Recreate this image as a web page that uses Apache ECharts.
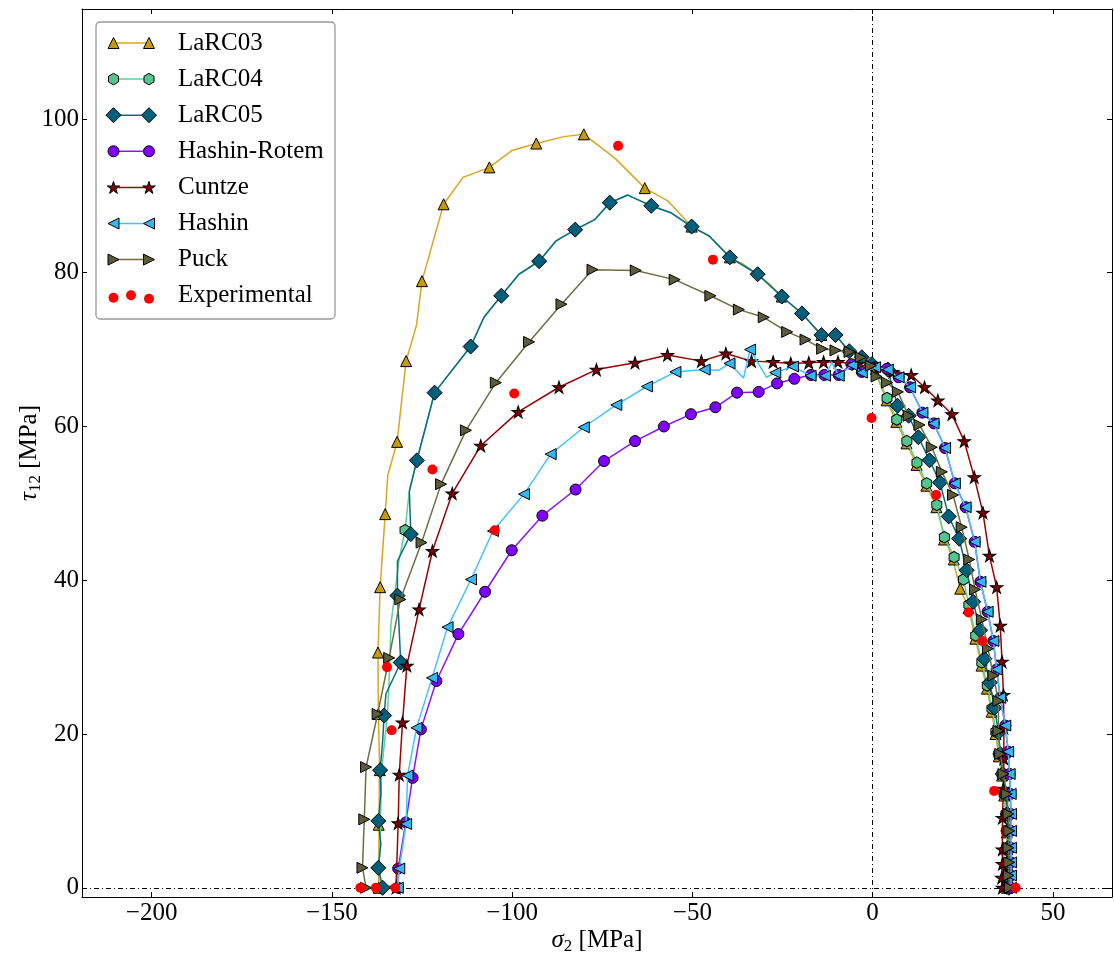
<!DOCTYPE html>
<html><head><meta charset="utf-8">
<script src="https://cdn.jsdelivr.net/npm/echarts@6/dist/echarts.min.js"></script>
<style>html,body{margin:0;padding:0;background:#fff}#c{width:1114px;height:958px}</style>
</head><body><div id="c"></div>
<script>
// ---------------- DATA ----------------
const seriesNames = ['LaRC03','LaRC04','LaRC05','Hashin-Rotem','Cuntze','Hashin','Puck','Experimental'];
const xTicks = [-200,-150,-100,-50,0,50];
const yTicks = [0,20,40,60,80,100];

const larc03Curve = [[-137.0,0],[-136.9,8],[-136.8,16.9],[-137.1,22.6],[-137.2,30.6],[-136.6,39.1],[-135.2,48.6],[-134.5,53.6],[-131.9,58.0],[-129.4,68.5],[-126.5,73.2],[-125.0,78.9],[-119.0,88.9],[-113.6,92.4],[-106.3,93.7],[-100.0,95.9],[-93.3,96.8],[-85.6,97.7],[-80.1,98.0],[-71.5,94.9],[-63.2,91.0],[-56.7,89.3],[-50.2,86.0],[-45.4,84.8],[-39.6,82.0],[-35.5,81.0],[-31.9,79.8],[-28.5,78.5],[-25.2,76.9],[-19.6,74.7],[-14.2,71.9],[-10.3,71.9],[-6.5,69.8],[-3.0,69.0],[-0.2,68.1],[3.9,63.4],[6.6,60.6],[9.4,57.8],[12.2,55.0],[14.9,52.3],[17.7,49.5],[18.3,48.6],[19.7,46.0],[22.3,42.6],[24.3,38.9],[26.6,36.4],[28.5,32.4],[30.2,28.9],[31.7,25.9],[33.0,22.9],[34.1,20.0],[35.0,17.1],[35.9,14.6],[36.5,12.0],[37.0,9.4],[37.2,7.2],[37.3,5.0],[37.3,3.1],[37.3,1.4],[37.3,0]];
const larc03Marks = [[-137.0,0],[-137.0,8.2],[-136.7,15.3],[-137.1,22.6],[-137.2,30.6],[-136.6,39.1],[-135.2,48.6],[-131.9,58.0],[-129.4,68.5],[-125.0,78.9],[-119.0,88.9],[-106.3,93.7],[-93.3,96.8],[-80.1,98.0],[-63.2,91.0],[-50.2,86.0],[-39.6,82.0],[-25.2,76.9],[-14.2,71.9],[-3.0,69.0],[3.9,63.4],[6.6,60.6],[9.4,57.8],[12.2,55.0],[14.9,52.3],[17.7,49.5],[19.8,45.3],[22.5,42.7],[24.3,38.9],[26.6,36.4],[28.5,32.4],[30.2,28.9],[31.7,25.9],[33.0,22.9],[34.1,20.0],[35.0,17.1],[35.9,14.6],[36.5,12.0],[37.0,9.4],[37.2,7.2],[37.3,5.0],[37.3,3.1],[37.3,1.4],[37.3,0]];

const larc04Curve = [[-136.3,0],[-136.9,2.6],[-136.5,8.7],[-136.2,15.3],[-134.6,22.4],[-134.1,26.9],[-133.6,34.3],[-131.4,42.5],[-129.7,46.5],[-128.5,51.6],[-126.4,55.6],[-121.5,64.4],[-111.5,70.4],[-107.8,74.2],[-103.0,77.0],[-98.1,79.8],[-92.5,81.5],[-87.9,84.1],[-82.5,85.6],[-77.1,86.9],[-72.9,89.1],[-67.9,90.1],[-61.4,88.7],[-56.0,87.8],[-50.2,86.0],[-45.4,84.8],[-39.6,82.0],[-31.9,79.8],[-25.2,76.9],[-19.6,74.7],[-14.2,71.9],[-10.3,71.9],[-6.5,69.8],[-3.0,69.0],[-0.2,68.1],[4.0,63.7],[6.7,60.9],[9.5,58.1],[12.3,55.3],[15.0,52.6],[17.8,49.8],[19.9,45.6],[22.6,43.0],[25.2,40.1],[26.7,36.8],[28.6,32.8],[30.3,29.3],[31.8,26.3],[33.1,23.3],[34.2,20.3],[35.0,17.4],[35.9,14.8],[36.5,12.2],[37.0,9.6],[37.2,7.4],[37.3,5.2],[37.3,3.3],[37.3,1.6],[37.3,0]];
const larc04Marks = [[-129.7,46.5],[4.0,63.7],[6.7,60.9],[9.5,58.1],[12.3,55.3],[15.0,52.6],[17.8,49.8],[19.9,45.6],[22.6,43.0],[25.2,40.1],[26.7,36.8],[28.6,32.8],[30.3,29.3],[31.8,26.3],[33.1,23.3],[34.2,20.3],[35.0,17.4],[35.9,14.8],[36.5,12.2],[37.0,9.6],[37.2,7.4],[37.3,5.2],[37.3,3.3],[37.3,1.6],[37.3,0]];

const larc05Curve = [[-135.9,0],[-137.1,2.6],[-136.4,5.7],[-137.1,8.7],[-136.4,12.2],[-136.6,15.3],[-135.9,19.1],[-135.5,22.4],[-135.0,25.2],[-130.9,29.3],[-131.3,33.4],[-131.8,38.0],[-131.8,42.5],[-128.1,46.0],[-128.5,51.6],[-126.4,55.6],[-121.5,64.4],[-111.5,70.4],[-107.8,74.2],[-103.0,77.0],[-98.1,79.8],[-92.5,81.5],[-87.9,84.1],[-82.5,85.6],[-77.1,86.9],[-72.9,89.1],[-67.9,90.1],[-61.4,88.7],[-56.0,87.8],[-50.2,86.0],[-45.4,84.8],[-39.6,82.0],[-31.9,79.8],[-25.2,76.9],[-19.6,74.7],[-14.2,71.9],[-10.3,71.9],[-6.5,69.8],[-3.0,69.0],[-0.2,68.1],[4.2,67.4],[6.9,62.7],[10.0,61.4],[12.7,58.6],[15.8,55.6],[18.7,52.7],[21.1,48.3],[24.0,45.4],[26.1,41.3],[27.9,37.2],[29.8,33.5],[31.0,29.8],[32.5,26.7],[33.8,23.4],[34.9,20.2],[35.4,17.4],[36.1,14.8],[37.0,12.2],[37.4,9.6],[37.6,7.4],[37.6,5.2],[37.6,3.2],[37.6,1.5],[37.8,0]];
const larc05Marks = [[-135.9,0],[-137.1,2.6],[-137.1,8.7],[-136.6,15.3],[-135.5,22.4],[-130.9,29.3],[-131.8,38.0],[-128.1,46.0],[-126.4,55.6],[-121.5,64.4],[-111.5,70.4],[-103.0,77.0],[-92.5,81.5],[-82.5,85.6],[-72.9,89.1],[-61.4,88.7],[-50.2,86.0],[-39.6,82.0],[-31.9,79.8],[-25.2,76.9],[-19.6,74.7],[-14.2,71.9],[-10.3,71.9],[-6.5,69.8],[-3.0,69.0],[-0.2,68.1],[4.2,67.4],[6.9,62.7],[10.0,61.4],[12.7,58.6],[15.8,55.6],[18.7,52.7],[21.1,48.3],[24.0,45.4],[26.1,41.3],[27.9,37.2],[29.8,33.5],[31.0,29.8],[32.5,26.7],[33.8,23.4],[34.9,20.2],[35.4,17.4],[36.1,14.8],[37.0,12.2],[37.4,9.6],[37.6,7.4],[37.6,5.2],[37.6,3.2],[37.6,1.5],[37.8,0]];

const hashinRotemMarks = [[-131.6,0],[-131.6,2.5],[-129.5,8.5],[-127.6,14.3],[-125.3,20.6],[-121.0,26.9],[-114.9,33.0],[-107.5,38.5],[-100.1,43.9],[-91.6,48.4],[-82.4,51.8],[-74.5,55.5],[-65.9,58.1],[-57.9,60.0],[-50.4,61.6],[-43.6,62.5],[-37.6,64.4],[-31.6,64.5],[-26.5,65.6],[-21.7,66.2],[-17.1,66.7],[-13.4,66.7],[-9.4,66.7],[-5.9,68.1],[-3.0,67.1],[0.7,67.7],[4.0,67.5],[7.2,66.4],[10.4,65.1],[13.8,61.8],[17.0,60.4],[20.1,57.2],[22.8,52.6],[25.8,49.5],[28.3,45.0],[29.9,39.8],[31.9,35.9],[33.5,32.1],[34.4,28.4],[35.4,24.7],[36.8,21.1],[37.6,17.7],[38.0,14.8],[38.2,12.2],[38.3,9.6],[38.3,7.4],[38.3,5.2],[38.3,3.3],[38.3,1.6],[38.3,0]];
const hashinRotemCurve = hashinRotemMarks;

const cuntzeMarks = [[-132.2,0],[-131.6,8.4],[-131.3,14.7],[-130.4,21.5],[-129.2,28.9],[-125.8,36.2],[-122.1,43.8],[-116.6,51.3],[-108.7,57.5],[-98.3,61.9],[-87.0,65.1],[-76.6,67.4],[-65.9,68.3],[-56.9,69.3],[-47.5,68.5],[-40.7,69.5],[-33.6,68.5],[-27.6,68.4],[-22.7,68.2],[-17.7,68.3],[-13.6,68.4],[-9.6,68.4],[-4.6,68.1],[0.6,67.6],[5.6,67.1],[10.7,66.7],[14.4,65.1],[18.1,63.4],[22.0,61.6],[25.4,58.1],[28.2,53.4],[30.6,48.8],[32.4,43.2],[34.4,39.1],[35.4,34.1],[35.9,29.4],[36.3,25.1],[36.4,20.8],[36.4,16.8],[36.3,12.9],[36.0,9.1],[36.0,5.0],[36.0,3.1],[35.8,1.3],[36.0,0]];
const cuntzeCurve = cuntzeMarks;

const hashinMarks = [[-131.7,0],[-131.3,2.5],[-129.4,8.3],[-129.0,14.6],[-126.5,20.8],[-122.2,27.3],[-117.9,33.9],[-111.4,40.1],[-105.3,46.4],[-96.7,51.2],[-89.3,56.4],[-80.1,59.9],[-71.1,62.8],[-62.6,65.2],[-54.7,67.1],[-46.6,67.4],[-39.7,68.2],[-34.0,70.0],[-27.0,67.0],[-22.1,67.8],[-17.2,66.6],[-13.2,66.6],[-9.4,66.6],[-5.7,68.0],[-3.0,67.0],[0.7,67.7],[4.2,67.4],[7.2,66.4],[10.4,65.1],[13.8,61.8],[16.9,60.4],[20.1,57.2],[22.8,52.6],[25.8,49.5],[28.3,45.0],[29.9,39.8],[31.9,35.9],[33.5,32.1],[34.4,28.4],[35.4,24.7],[36.8,21.1],[37.6,17.7],[38.0,14.8],[38.3,12.2],[38.4,9.6],[38.4,7.4],[38.4,5.2],[38.4,3.3],[38.4,1.6],[38.4,0]];
const hashinCurve = [[-131.7,0],[-131.3,2.5],[-129.4,8.3],[-129.0,14.6],[-126.5,20.8],[-122.2,27.3],[-117.9,33.9],[-111.4,40.1],[-105.3,46.4],[-96.7,51.2],[-89.3,56.4],[-80.1,59.9],[-71.1,62.8],[-62.6,65.2],[-54.7,67.1],[-46.6,67.4],[-42.7,67.3],[-39.7,68.2],[-35.8,66.3],[-34.0,70.0],[-29.4,66.4],[-27.0,67.0],[-22.1,67.8],[-17.2,66.6],[-13.2,66.6],[-11.3,68.3],[-9.4,66.6],[-5.7,68.0],[-3.0,67.0],[0.7,67.7],[4.2,67.4],[7.2,66.4],[10.4,65.1],[13.8,61.8],[16.9,60.4],[20.1,57.2],[22.8,52.6],[25.8,49.5],[28.3,45.0],[29.9,39.8],[31.9,35.9],[33.5,32.1],[34.4,28.4],[35.4,24.7],[36.8,21.1],[37.6,17.7],[38.0,14.8],[38.3,12.2],[38.4,9.6],[38.4,7.4],[38.4,5.2],[38.4,3.3],[38.4,1.6],[38.4,0]];

const puckMarks = [[-140.5,0],[-141.5,2.6],[-141.0,8.9],[-140.5,15.7],[-137.3,22.6],[-134.1,29.9],[-131.0,37.5],[-125.1,44.9],[-119.7,52.5],[-112.8,59.5],[-104.5,65.7],[-95.3,71.0],[-86.3,75.9],[-77.7,80.4],[-65.7,80.3],[-54.9,79.1],[-45.0,77.0],[-37.1,75.2],[-30.2,74.2],[-23.7,72.3],[-18.6,71.3],[-14.0,70.1],[-10.3,69.9],[-6.4,69.7],[-3.3,69.0],[-0.5,67.9],[1.1,66.5],[4.0,65.7],[7.0,64.5],[10.0,61.4],[13.0,60.2],[16.4,57.3],[19.2,54.1],[22.3,51.1],[24.7,46.9],[26.8,42.7],[28.4,38.8],[30.3,34.9],[32.0,31.1],[33.5,27.6],[34.9,24.3],[34.9,20.4],[35.4,17.4],[36.3,14.8],[37.2,12.2],[37.7,9.6],[37.9,7.4],[37.7,5.2],[37.9,3.3],[37.7,1.6],[38.1,0]];
const puckCurve = puckMarks;

const experimental = [[-70.6,96.5],[-44.3,81.7],[-99.4,64.3],[-122.1,54.4],[-104.8,46.5],[-134.7,28.7],[-133.4,20.5],[-142.1,0],[-137.8,0],[-132.4,0],[-0.3,61.1],[17.6,51.1],[26.6,35.8],[30.4,32.1],[33.7,12.6],[39.7,0]];

// ---------------- STYLE ----------------
const SHAPES = {
  triUp: [[0,-0.5],[0.5,0.5],[-0.5,0.5]],
  triL: [[-0.5,0],[0.5,-0.5],[0.5,0.5]],
  triR: [[0.5,0],[-0.5,-0.5],[-0.5,0.5]],
  diam: [[0,-0.5],[0.5,0],[0,0.5],[-0.5,0]],
  hex: [[0,-0.5],[0.5,-0.25],[0.5,0.25],[0,0.5],[-0.5,0.25],[-0.5,-0.25]],
  star: [[0,-1],[-0.2245,-0.309],[-0.9511,-0.309],[-0.3633,0.118],[-0.5878,0.809],[0,0.382],[0.5878,0.809],[0.3633,0.118],[0.9511,-0.309],[0.2245,-0.309]]
    .map(p => [p[0]/1.9022, (p[1]+0.0955)/1.809])
};
const symPath = k => 'path://M' + SHAPES[k].map(p => Math.round(p[0]*1000)+','+Math.round(p[1]*1000)).join('L') + 'Z';

const models = [
  {curve: larc03Curve, marks: larc03Marks, line:'#dba520', fill:'#c99a06', sym:'triUp', size:[11,11]},
  {curve: larc04Curve, marks: larc04Marks, line:'#5fcf97', fill:'#52c68c', sym:'hex', size:[10,11.5]},
  {curve: larc05Curve, marks: larc05Marks, line:'#0b6c87', fill:'#005f7a', sym:'diam', size:[15,15]},
  {curve: hashinRotemCurve, marks: hashinRotemMarks, line:'#8a14ff', fill:'#7f00ff', sym:'circle', size:[11,11]},
  {curve: cuntzeCurve, marks: cuntzeMarks, line:'#9c0000', fill:'#800000', sym:'star', size:[12.5,12]},
  {curve: hashinCurve, marks: hashinMarks, line:'#45c2ff', fill:'#33b8f5', sym:'triL', size:[11,11]},
  {curve: puckCurve, marks: puckMarks, line:'#6e6e45', fill:'#5c5c38', sym:'triR', size:[11,11]}
];
const FONT = 'Liberation Serif';
const fmt = v => v < 0 ? '\u2212' + (-v) : '' + v;

const series = [{
  type:'scatter', data:[], silent:true, z:1,
  markLine:{silent:true, symbol:'none', animation:false, label:{show:false},
    lineStyle:{color:'#000', width:1, type:[5,3,1,3]},
    data:[{xAxis:0},{yAxis:0}]}
}];
models.forEach((m,i) => {
  series.push({type:'line', name:seriesNames[i], data:m.curve, symbol:'none', showSymbol:false,
    lineStyle:{color:m.line, width:1.5}, z:10+2*i, silent:true, animation:false});
  series.push({type:'scatter', name:seriesNames[i], data:m.marks,
    symbol: m.sym==='circle' ? 'circle' : symPath(m.sym), symbolSize:m.size,
    itemStyle:{color:m.fill, borderColor:'#000', borderWidth:1, opacity:1},
    z:11+2*i, silent:true, animation:false});
});
series.push({type:'scatter', name:'Experimental', data:experimental, symbol:'circle', symbolSize:10,
  itemStyle:{color:'#ff0000', borderWidth:0, opacity:1}, z:40, silent:true, animation:false});

// custom legend (matplotlib-like)
const graphic = [];
const lx0 = 96, ly0 = 22, lw = 239, lh = 297;
graphic.push({type:'rect', shape:{x:lx0, y:ly0, width:lw, height:lh, r:4},
  style:{fill:'#fff', stroke:'#999', lineWidth:1.3}, z:100});
seriesNames.forEach((nm,i) => {
  const cy = 43 + i*36.1;
  if (i < models.length) {
    const m = models[i];
    graphic.push({type:'line', shape:{x1:113.5, y1:cy, x2:149, y2:cy}, style:{stroke:m.line, lineWidth:1.5}, z:101});
    [113.5,149].forEach(cx => {
      if (m.sym === 'circle') {
        graphic.push({type:'circle', shape:{cx:cx, cy:cy, r:m.size[0]/2}, style:{fill:m.fill, stroke:'#000', lineWidth:1}, z:102});
      } else {
        graphic.push({type:'polygon', shape:{points: SHAPES[m.sym].map(p => [cx + p[0]*m.size[0], cy + p[1]*m.size[1]])},
          style:{fill:m.fill, stroke:'#000', lineWidth:1}, z:102});
      }
    });
  } else {
    [[113.5,2],[131,-0.5],[149,3]].forEach(d => {
      graphic.push({type:'circle', shape:{cx:d[0], cy:cy+d[1], r:5}, style:{fill:'#ff0000'}, z:102});
    });
  }
  graphic.push({type:'text', x:178, y:cy, style:{text:nm, font:'25px "Liberation Serif"', fill:'#000', verticalAlign:'middle', align:'left'}, z:102});
});

const axisCommon = {
  axisLine:{show:true, onZero:false, lineStyle:{color:'#000', width:1}},
  splitLine:{show:false}
};
const richName = {i:{fontFamily:FONT, fontSize:25, fontStyle:'italic', color:'#000'}, s:{fontFamily:FONT, fontSize:17, color:'#000', verticalAlign:'bottom', padding:[12,0,0,0]}};
const option = {
  animation:false,
  backgroundColor:'#fff',
  grid:{left:82, right:2, top:9, bottom:61, containLabel:false, outerBoundsMode:'none'},
  xAxis:[
    Object.assign({type:'value', min:-219.3, max:66.4, position:'bottom',
      axisTick:{inside:true, length:5, customValues:xTicks, lineStyle:{color:'#000'}},
      axisLabel:{customValues:xTicks, formatter:fmt, fontFamily:FONT, fontSize:25, color:'#000', margin:4},
      name:'{i|σ}{s|2} [MPa]', nameLocation:'middle', nameGap:29, nameMoveOverlap:false,
      nameTextStyle:{fontFamily:FONT, fontSize:25, color:'#000', rich:richName}
    }, axisCommon),
    Object.assign({type:'value', min:-219.3, max:66.4, position:'top',
      axisTick:{inside:true, length:5, customValues:xTicks, lineStyle:{color:'#000'}},
      axisLabel:{show:false}}, axisCommon)
  ],
  yAxis:[
    Object.assign({type:'value', min:-1.2, max:114.3, position:'left',
      axisTick:{inside:true, length:5, customValues:yTicks, lineStyle:{color:'#000'}},
      axisLabel:{customValues:yTicks, formatter:fmt, fontFamily:FONT, fontSize:25, color:'#000', margin:3},
      name:'{i|τ}{s|12} [MPa]', nameLocation:'middle', nameGap:38, nameMoveOverlap:false,
      nameTextStyle:{fontFamily:FONT, fontSize:25, color:'#000', rich:richName}
    }, axisCommon),
    Object.assign({type:'value', min:-1.2, max:114.3, position:'right',
      axisTick:{inside:true, length:5, customValues:yTicks, lineStyle:{color:'#000'}},
      axisLabel:{show:false}}, axisCommon)
  ],
  series: series,
  graphic: graphic
};
const chart = echarts.init(document.getElementById('c'), null, {renderer:'canvas'});
chart.setOption(option);
</script>
</body></html>
